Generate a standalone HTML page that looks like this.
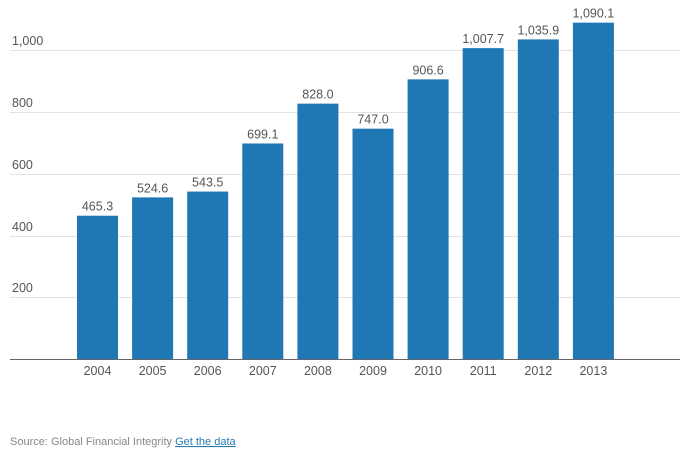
<!DOCTYPE html>
<html><head><meta charset="utf-8"><style>
body{margin:0;background:#fff;width:700px;height:450px;overflow:hidden;font-family:"Liberation Sans",Arial,sans-serif}
</style></head><body>
<svg width="700" height="450" xmlns="http://www.w3.org/2000/svg" font-family="Liberation Sans, Arial, sans-serif">
<g stroke="#e2e2e2" stroke-width="1">
<line x1="10" x2="680" y1="50.5" y2="50.5"/>
<line x1="10" x2="680" y1="112.5" y2="112.5"/>
<line x1="10" x2="680" y1="174.5" y2="174.5"/>
<line x1="10" x2="680" y1="236.5" y2="236.5"/>
<line x1="10" x2="680" y1="297.5" y2="297.5"/>
</g>
<g fill="#555" font-size="12.5">
<text x="12" y="45">1,000</text>
<text x="12" y="107">800</text>
<text x="12" y="169">600</text>
<text x="12" y="231">400</text>
<text x="12" y="292">200</text>
</g>
<g fill="#1f77b4" id="bars"></g>
<line x1="10" x2="680" y1="359.5" y2="359.5" stroke="#666" stroke-width="1"/>
<g id="labels" fill="#555" font-size="12.5" text-anchor="middle"></g>
<text x="10" y="445" fill="#888" font-size="11">Source: Global Financial Integrity <tspan fill="#2a7ab0" text-decoration="underline">Get the data</tspan></text>
<script>
var v=[465.3,524.6,543.5,699.1,828.0,747.0,906.6,1007.7,1035.9,1090.1];
var lab=["465.3","524.6","543.5","699.1","828.0","747.0","906.6","1,007.7","1,035.9","1,090.1"];
var b=document.getElementById('bars'),l=document.getElementById('labels'),ns="http://www.w3.org/2000/svg";
for(var i=0;i<10;i++){var x=77+i*55.1,h=v[i]*0.309;
var r=document.createElementNS(ns,'rect');r.setAttribute('x',x);r.setAttribute('y',359.5-h);r.setAttribute('width',41);r.setAttribute('height',h);b.appendChild(r);
var t=document.createElementNS(ns,'text');t.setAttribute('x',x+20.5);t.setAttribute('y',359.5-h-5);t.textContent=lab[i];l.appendChild(t);
var y=document.createElementNS(ns,'text');y.setAttribute('x',x+20.5);y.setAttribute('y',375);y.textContent=2004+i;l.appendChild(y);}
</script>
</svg>
</body></html>
